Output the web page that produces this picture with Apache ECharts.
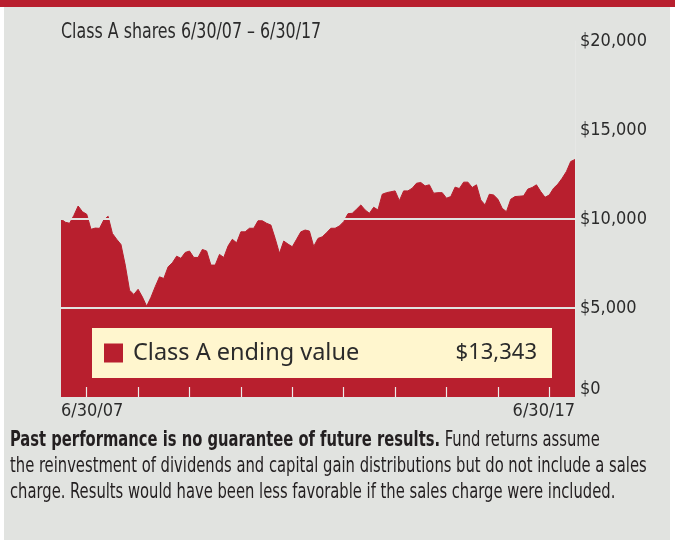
<!DOCTYPE html>
<html>
<head>
<meta charset="utf-8">
<script src="https://cdn.jsdelivr.net/npm/echarts@6/dist/echarts.min.js"></script>
<style>
  html, body { margin: 0; padding: 0; background: #ffffff; }
  #chart { width: 675px; height: 540px; }
</style>
</head>
<body>
<div id="chart"></div>
<script>
// Month-end valuation dates, 6/30/07 through 6/30/17
const monthEnds = [];
for (let i = 0; i <= 120; i++) {
  const y = 2007 + Math.floor((5 + i) / 12);
  const m = (5 + i) % 12;
  const lastDay = new Date(Date.UTC(y, m + 1, 0)).getUTCDate();
  monthEnds.push((m + 1) + '/' + lastDay + '/' + String(y % 100).padStart(2, '0'));
}

// Growth of a $10,000 investment in Class A shares (month-end values, $)
const classAValues = [
  10000, 9820, 9760, 10200, 10730, 10410, 10270, 9420, 9490, 9475,
  9950, 10150, 9190, 8860, 8570, 7410, 6000, 5760, 6050, 5620,
  5100, 5600, 6200, 6750, 6660, 7310, 7540, 7910, 7790, 8120,
  8200, 7840, 7840, 8290, 8200, 7410, 7410, 8010, 7840, 8480,
  8860, 8660, 9280, 9280, 9480, 9480, 9900, 9900, 9760, 9660,
  8910, 8070, 8760, 8590, 8440, 8860, 9280, 9380, 9320, 8460,
  8910, 9000, 9230, 9480, 9480, 9610, 9850, 10300, 10320, 10550,
  10790, 10510, 10320, 10660, 10510, 11390, 11480, 11530, 11580, 11030,
  11580, 11580, 11730, 12010, 12050, 11860, 11920, 11450, 11480, 11480,
  11170, 11260, 11790, 11710, 12070, 12070, 11770, 11920, 11070, 10790,
  11390, 11350, 11110, 10600, 10410, 11110, 11260, 11280, 11300, 11680,
  11770, 11920, 11540, 11220, 11350, 11730, 11960, 12290, 12670, 13230,
  13343
];

const seriesName = 'Class A ending value';
const chartTitle = 'Class A shares 6/30/07 \u2013 6/30/17';
const yTicks = { min: 0, max: 20000, step: 5000 };
const footnoteBold = 'Past performance is no guarantee of future results.';
const footnoteLines = [
  ' Fund returns assume',
  'the reinvestment of dividends and capital gain distributions but do not include a sales',
  'charge. Results would have been less favorable if the sales charge were included.'
];

const RED = '#B81F2E';
const BG = '#E1E3E0';
const CREAM = '#FFF6CE';
const TEXT = '#2B2B2B';
const NARROW = "'Liberation Sans Narrow', 'DejaVu Sans Condensed', sans-serif";
const WIDE = "'Noto Sans', 'Open Sans', sans-serif";
const TITLE_SQUEEZE = 0.82;   // horizontal compression for condensed captions
const NOTE_SQUEEZE = 0.80;

const fmtDollar = v => '$' + Math.round(v).toLocaleString('en-US');
const endingValue = classAValues[classAValues.length - 1];

const chart = echarts.init(document.getElementById('chart'), null, { renderer: 'canvas' });

chart.setOption({
  animation: false,
  backgroundColor: '#ffffff',
  graphic: [
    { type: 'rect', silent: true, z: -10, shape: { x: 4, y: 7, width: 666, height: 533 }, style: { fill: BG } },
    { type: 'rect', silent: true, z: -10, shape: { x: 0, y: 0, width: 675, height: 7 }, style: { fill: RED } },
    {
      type: 'text',
      silent: true,
      x: 61,
      y: 21,
      scaleX: TITLE_SQUEEZE,
      style: {
        text: chartTitle,
        fontFamily: NARROW,
        fontSize: 21.5,
        fill: TEXT,
        verticalAlign: 'top'
      }
    },
    {
      type: 'text',
      silent: true,
      x: 10,
      y: 428,
      scaleX: NOTE_SQUEEZE,
      style: {
        text: '{b|' + footnoteBold + '}' + footnoteLines.join('\n'),
        fontFamily: NARROW,
        fontSize: 20.5,
        lineHeight: 26,
        fill: '#231F20',
        verticalAlign: 'top',
        rich: {
          b: { fontFamily: NARROW, fontSize: 20.5, lineHeight: 26, fontWeight: 'bold', fill: '#231F20' }
        }
      }
    }
  ],
  legend: {
    data: [seriesName],
    left: 92,
    top: 328,
    padding: [13, 15, 13, 12],
    backgroundColor: CREAM,
    icon: 'rect',
    itemWidth: 19,
    itemHeight: 19,
    selectedMode: false,
    itemStyle: { color: RED, borderWidth: 0 },
    formatter: name => '{n|' + name + '}{v|' + fmtDollar(endingValue) + '}',
    textStyle: {
      rich: {
        n: { fontFamily: WIDE, fontSize: 23.5, color: TEXT, width: 320, lineHeight: 20, padding: [0, 0, 0, 5] },
        v: { fontFamily: WIDE, fontSize: 22, color: TEXT, width: 84, align: 'right', lineHeight: 20 }
      }
    }
  },
  grid: { left: 61, right: 100, top: 41, bottom: 143 },
  xAxis: {
    type: 'category',
    data: monthEnds,
    boundaryGap: false,
    z: 3,
    axisLine: { show: false },
    axisTick: {
      show: true,
      inside: true,
      length: 10,
      interval: (idx, val) => String(val).startsWith('12/'),
      lineStyle: { color: '#ECEBEA', width: 1.2 }
    },
    axisLabel: {
      interval: idx => idx === 0 || idx === monthEnds.length - 1,
      margin: 5,
      alignMinLabel: 'left',
      alignMaxLabel: 'right',
      fontFamily: NARROW,
      fontSize: 18,
      color: TEXT
    },
    splitLine: { show: false }
  },
  yAxis: {
    type: 'value',
    position: 'right',
    min: yTicks.min,
    max: yTicks.max,
    interval: yTicks.step,
    z: 3,
    axisLine: { show: true, lineStyle: { color: '#E6E7E5', width: 1 } },
    axisTick: { show: false },
    axisLabel: {
      margin: 5,
      fontFamily: NARROW,
      fontSize: 18,
      color: TEXT,
      formatter: v => v === 0 ? '{z|' + fmtDollar(v) + '}' : fmtDollar(v),
      rich: {
        z: { fontFamily: NARROW, fontSize: 18, color: TEXT, padding: [0, 0, 16, 0] }
      }
    },
    splitLine: {
      show: true,
      showMinLine: false,
      showMaxLine: false,
      lineStyle: { color: BG, width: 2 }
    }
  },
  series: [{
    name: seriesName,
    type: 'line',
    data: classAValues,
    color: RED,
    symbol: 'none',
    lineStyle: { color: RED, width: 1 },
    areaStyle: { color: RED, opacity: 1 },
    z: 2
  }]
});
</script>
</body>
</html>
